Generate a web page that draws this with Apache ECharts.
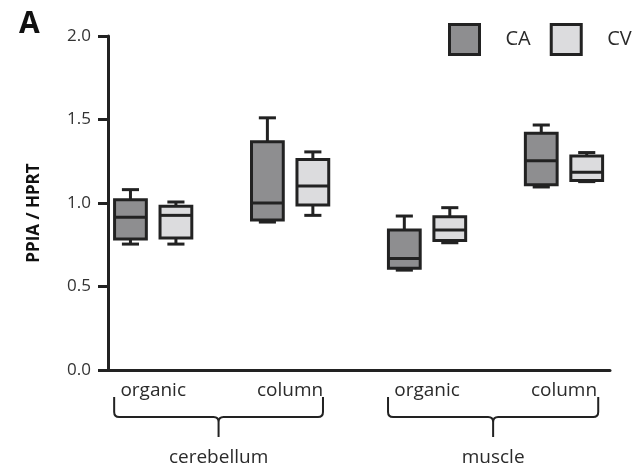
<!DOCTYPE html>
<html>
<head>
<meta charset="utf-8">
<script src="https://cdn.jsdelivr.net/npm/echarts@6/dist/echarts.min.js"></script>
<style>
html,body{margin:0;padding:0;background:#fff;}
#chart{width:642px;height:468px;}
</style>
</head>
<body>
<div id="chart"></div>
<script>
// ---- data ----
const categories = ['organic', 'column', 'organic', 'column'];
const groupNames = ['cerebellum', 'muscle'];
const groupSpans = [[-0.285, 1.24], [1.715, 3.25]];
const seriesNames = ['CA', 'CV'];
// [min, q1, median, q3, max] per category
const caValues = [
  [0.754, 0.785, 0.914, 1.020, 1.080],
  [0.886, 0.898, 1.000, 1.367, 1.510],
  [0.598, 0.610, 0.668, 0.838, 0.922],
  [1.096, 1.110, 1.253, 1.417, 1.467]
];
const cvValues = [
  [0.754, 0.790, 0.926, 0.980, 1.006],
  [0.926, 0.988, 1.102, 1.260, 1.306],
  [0.762, 0.775, 0.838, 0.918, 0.972],
  [1.128, 1.134, 1.184, 1.281, 1.302]
];
const yTicks = [0, 0.5, 1.0, 1.5, 2.0];

// ---- styles ----
const FONT = "'Open Sans', 'DejaVu Sans', sans-serif";
const INK = '#222222';
const fills = ['#8e8e90', '#dcdcde'];
const offsets = [-0.166, 0.166];
const BOX_W = 0.232;
const CAP_W = 0.125;

function boxRender(seriesIdx) {
  return function (params, api) {
    const cx = api.value(0) + offsets[seriesIdx];
    const vmin = api.value(1), q1 = api.value(2), med = api.value(3), q3 = api.value(4), vmax = api.value(5);
    const left = api.coord([cx - BOX_W / 2, 0])[0];
    const right = api.coord([cx + BOX_W / 2, 0])[0];
    const capL = api.coord([cx - CAP_W / 2, 0])[0];
    const capR = api.coord([cx + CAP_W / 2, 0])[0];
    const mid = api.coord([cx, 0])[0];
    const yMin = api.coord([cx, vmin])[1];
    const yQ1 = api.coord([cx, q1])[1];
    const yMed = api.coord([cx, med])[1];
    const yQ3 = api.coord([cx, q3])[1];
    const yMax = api.coord([cx, vmax])[1];
    const ls = { stroke: INK, lineWidth: 3, lineCap: 'butt' };
    return {
      type: 'group',
      children: [
        { type: 'line', shape: { x1: mid, y1: yQ3, x2: mid, y2: yMax }, style: ls },
        { type: 'line', shape: { x1: capL, y1: yMax, x2: capR, y2: yMax }, style: ls },
        { type: 'line', shape: { x1: mid, y1: yQ1, x2: mid, y2: yMin }, style: ls },
        { type: 'line', shape: { x1: capL, y1: yMin, x2: capR, y2: yMin }, style: ls },
        { type: 'rect', shape: { x: left, y: yQ3, width: right - left, height: yQ1 - yQ3 },
          style: { fill: fills[seriesIdx], stroke: INK, lineWidth: 3 } },
        { type: 'line', shape: { x1: left, y1: yMed, x2: right, y2: yMed }, style: ls }
      ]
    };
  };
}

function bracketRender(params, api) {
  const s = api.value(0), e = api.value(1);
  const base = api.coord([s, 0]);
  const x1 = base[0];
  const x2 = api.coord([e, 0])[0];
  const y0 = base[1];
  const m = (x1 + x2) / 2;
  const yt = y0 + 27, yh = y0 + 47, ys = y0 + 67, r = 5;
  const d = 'M' + x1 + ',' + yt + ' L' + x1 + ',' + (yh - r) + ' Q' + x1 + ',' + yh + ' ' + (x1 + r) + ',' + yh +
    ' L' + (m - r) + ',' + yh + ' Q' + m + ',' + yh + ' ' + m + ',' + (yh + r) + ' L' + m + ',' + ys +
    ' M' + m + ',' + (yh + r) + ' Q' + m + ',' + yh + ' ' + (m + r) + ',' + yh +
    ' L' + (x2 - r) + ',' + yh + ' Q' + x2 + ',' + yh + ' ' + x2 + ',' + (yh - r) + ' L' + x2 + ',' + yt;
  return {
    type: 'group',
    children: [
      { type: 'path', shape: { pathData: d }, style: { fill: null, stroke: INK, lineWidth: 2 } },
      { type: 'text', style: { text: groupNames[params.dataIndex], x: m, y: y0 + 88,
          align: 'center', verticalAlign: 'middle', fill: '#2a2a2a', fontSize: 19, fontFamily: FONT } }
    ]
  };
}

const chart = echarts.init(document.getElementById('chart'), null, { renderer: 'canvas' });
chart.setOption({
  backgroundColor: '#ffffff',
  animation: false,
  title: {
    text: 'A', left: 14, top: 4,
    textStyle: { fontSize: 30, fontWeight: 'bold', color: '#111', fontFamily: FONT }
  },
  legend: {
    left: 448, top: 23, padding: 0,
    itemWidth: 30, itemHeight: 30, itemGap: 19,
    textStyle: { fontSize: 20, color: '#2a2a2a', fontFamily: FONT, padding: [0, 0, 0, 21] },
    data: seriesNames.map((n, i) => ({
      name: n, icon: 'rect',
      itemStyle: { color: fills[i], borderColor: INK, borderWidth: 3 }
    }))
  },
  grid: { left: 108, right: 32, top: 36, bottom: 98, containLabel: false },
  xAxis: {
    type: 'value', min: -0.33, max: 3.336,
    splitLine: { show: false },
    axisLine: { show: true, onZero: false, lineStyle: { color: INK, width: 3 } },
    axisTick: { show: false },
    axisLabel: {
      customValues: [0, 1, 2, 3],
      formatter: v => categories[Math.round(v)],
      fontSize: 19, color: '#2a2a2a', fontFamily: FONT, margin: 11,
      showMinLabel: true, showMaxLabel: true
    }
  },
  yAxis: {
    type: 'value', min: 0, max: 2, interval: 0.5,
    name: 'PPIA / HPRT', nameLocation: 'middle', nameGap: 65,
    nameTextStyle: { fontSize: 17, fontWeight: 'bold', color: '#111', fontFamily: FONT, padding: [0, 20, 0, 0] },
    splitLine: { show: false },
    axisLine: { show: true, onZero: false, lineStyle: { color: INK, width: 3 } },
    axisTick: { show: true, length: 10, lineStyle: { color: INK, width: 3 } },
    axisLabel: {
      formatter: v => v.toFixed(1),
      fontSize: 17, color: '#333', fontFamily: FONT, margin: 17
    }
  },
  series: [
    {
      name: 'CA', type: 'custom', coordinateSystem: 'cartesian2d',
      itemStyle: { color: fills[0] },
      encode: { x: 0, y: [1, 2, 3, 4, 5] },
      data: caValues.map((v, i) => [i].concat(v)),
      renderItem: boxRender(0)
    },
    {
      name: 'CV', type: 'custom', coordinateSystem: 'cartesian2d',
      itemStyle: { color: fills[1] },
      encode: { x: 0, y: [1, 2, 3, 4, 5] },
      data: cvValues.map((v, i) => [i].concat(v)),
      renderItem: boxRender(1)
    },
    {
      name: 'groups', type: 'custom', coordinateSystem: 'cartesian2d', clip: false,
      encode: { x: [0, 1] },
      data: groupSpans.map(s => [s[0], s[1]]),
      renderItem: bracketRender,
      silent: true
    }
  ]
});
</script>
</body>
</html>
